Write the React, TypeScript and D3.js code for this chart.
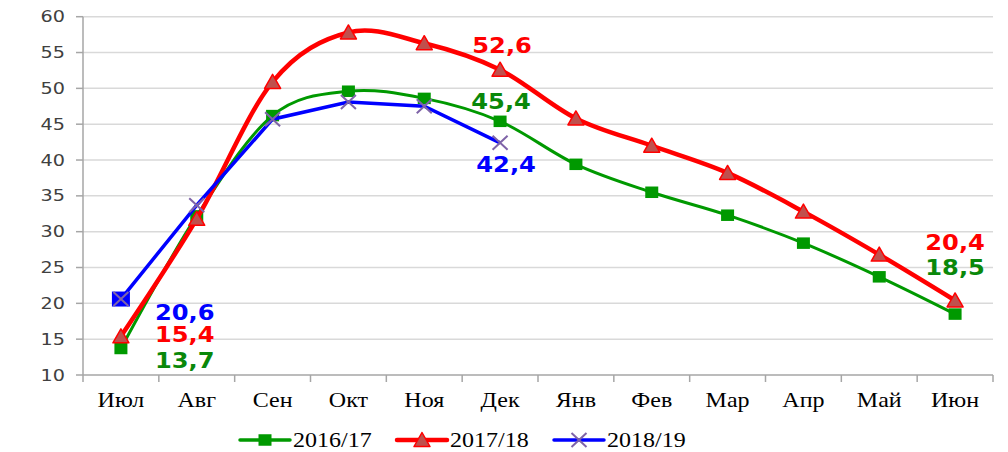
import React from "react";
import * as d3 from "d3";

const months = ["Июл", "Авг", "Сен", "Окт", "Ноя", "Дек", "Янв", "Фев", "Мар", "Апр", "Май", "Июн"];
const yTicks = [10, 15, 20, 25, 30, 35, 40, 45, 50, 55, 60];
const s2016 = [13.7, 32.2, 46.2, 49.6, 48.6, 45.4, 39.4, 35.5, 32.3, 28.4, 23.7, 18.5];
const s2017 = [15.4, 31.8, 50.9, 57.8, 56.3, 52.6, 45.8, 42.0, 38.2, 32.8, 26.8, 20.4];
const s2018 = [20.6, 33.7, 45.7, 48.1, 47.5, 42.4];
const seriesNames = ["2016/17", "2017/18", "2018/19"];

const W = 1008, H = 452;
const L = 83, R = 993, T = 16.7, B = 375;

const x = d3.scaleBand<string>().domain(months).range([L, R]).padding(0);
const cx = (i: number) => (x(months[i]) as number) + x.bandwidth() / 2;
const y = d3.scaleLinear().domain([10, 60]).range([B, T]);

const smooth = d3.line<number>().x((_, i) => cx(i)).y((d) => y(d)).curve(d3.curveCardinal.tension(0));
const straight = d3.line<number>().x((_, i) => cx(i)).y((d) => y(d));

const GREEN = "#009900", RED = "#ff0000", BLUE = "#0000ff", TRI = "#c0504d", XCOL = "#7f64a8";
const GREEN_TXT = "#0a880a";

function ST({ x: tx, y: ty, sx = 1.2, anchor = "start", children, ...rest }: any) {
  return (
    <text transform={`translate(${tx},${ty}) scale(${sx},1)`} textAnchor={anchor} {...rest}>
      {children}
    </text>
  );
}

const sq = (px: number, py: number, w = 13, h = 11.5, fill = GREEN, key?: any) => (
  <rect key={key} x={px - w / 2} y={py - h / 2} width={w} height={h} fill={fill} />
);
const tri = (px: number, py: number, key?: any) => (
  <path key={key} d={`M${px - 8},${py + 6.5} L${px + 8},${py + 6.5} L${px},${py - 7.5} Z`} fill={TRI} stroke={RED} strokeWidth={1.5} strokeLinejoin="round" />
);
const cross = (px: number, py: number, key?: any) => (
  <path key={key} d={`M${px - 7.5},${py - 7} L${px + 7.5},${py + 7} M${px - 7.5},${py + 7} L${px + 7.5},${py - 7}`} stroke={XCOL} strokeWidth={2} />
);

const labelFont = { fontFamily: "DejaVu Sans, Verdana, sans-serif", fontWeight: "bold", fontSize: 21 };

export default function App() {
  return (
    <svg width={W} height={H} style={{ position: "absolute", left: 0, top: 0 }}>
      <rect width={W} height={H} fill="#fff" />
      {yTicks.filter((t) => t > 10).map((t) => (
        <line key={t} x1={L} x2={R} y1={y(t)} y2={y(t)} stroke="#d9d9d9" strokeWidth={1.5} />
      ))}
      <line x1={L} x2={L} y1={T} y2={B} stroke="#a6a6a6" strokeWidth={1.5} />
      <line x1={L} x2={R} y1={B} y2={B} stroke="#a6a6a6" strokeWidth={1.5} />
      {yTicks.map((t) => (
        <g key={t}>
          <line x1={L - 7} x2={L} y1={y(t)} y2={y(t)} stroke="#a6a6a6" strokeWidth={1.5} />
          <ST x={65} y={y(t) + 5.5} sx={1.28} anchor="end" fill="#404040" style={{ fontFamily: "DejaVu Sans, sans-serif", fontSize: 15 }}>
            {t}
          </ST>
        </g>
      ))}
      {months.map((m, i) => (
        <g key={m}>
          <line x1={(x(m) as number)} x2={(x(m) as number)} y1={B} y2={B + 7} stroke="#a6a6a6" strokeWidth={1.5} />
          <ST x={cx(i)} y={407} sx={1.2} anchor="middle" fill="#000" style={{ fontFamily: "Liberation Serif, Times New Roman, serif", fontSize: 20 }}>
            {m}
          </ST>
        </g>
      ))}
      <line x1={R} x2={R} y1={B} y2={B + 7} stroke="#a6a6a6" strokeWidth={1.5} />

      <path d={smooth(s2016) as string} fill="none" stroke={GREEN} strokeWidth={3} />
      {s2016.map((v, i) => sq(cx(i), y(v), 13, 11.5, GREEN, "g" + i))}
      <path d={smooth(s2017) as string} fill="none" stroke={RED} strokeWidth={4.5} />
      {s2017.map((v, i) => tri(cx(i), y(v), "r" + i))}
      <path d={straight(s2018) as string} fill="none" stroke={BLUE} strokeWidth={3.5} />
      {s2018.map((v, i) => (
        <g key={"b" + i}>
          {i === 0 && sq(cx(i), y(v), 18, 15, BLUE)}
          {cross(cx(i), y(v))}
        </g>
      ))}

      <g style={labelFont as any}>
        <ST x={cx(0) + 34} y={y(s2018[0]) + 21} sx={1.15} fill={BLUE}>{"20,6"}</ST>
        <ST x={cx(0) + 34} y={y(s2017[0]) + 6} sx={1.15} fill={RED}>{"15,4"}</ST>
        <ST x={cx(0) + 34} y={y(s2016[0]) + 19.5} sx={1.15} fill={GREEN_TXT}>{"13,7"}</ST>
        <ST x={cx(5) + 2} y={y(s2017[5]) - 17} sx={1.15} anchor="middle" fill={RED}>{"52,6"}</ST>
        <ST x={cx(5) + 1} y={y(s2016[5]) - 12.5} sx={1.15} anchor="middle" fill={GREEN_TXT}>{"45,4"}</ST>
        <ST x={cx(5) + 6} y={y(s2018[5]) + 29.5} sx={1.15} anchor="middle" fill={BLUE}>{"42,4"}</ST>
        <ST x={cx(11)} y={y(s2017[11]) - 50} sx={1.15} anchor="middle" fill={RED}>{"20,4"}</ST>
        <ST x={cx(11)} y={y(s2016[11]) - 39.5} sx={1.15} anchor="middle" fill={GREEN_TXT}>{"18,5"}</ST>
      </g>

      {seriesNames.map((name, k) => {
        const x0 = 240 + k * 157;
        const ly = 440;
        const col = [GREEN, RED, BLUE][k];
        const sw = [3.5, 4.5, 3.5][k];
        const mx = x0 + 25;
        return (
          <g key={name}>
            <line x1={x0} x2={x0 + 50} y1={ly} y2={ly} stroke={col} strokeWidth={sw} strokeLinecap="round" />
            {k === 0 && sq(mx, ly, 13, 11.5, GREEN)}
            {k === 1 && tri(mx, ly)}
            {k === 2 && cross(mx, ly)}
            <ST x={x0 + 53} y={447} sx={1.2} fill="#000" style={{ fontFamily: "Liberation Serif, Times New Roman, serif", fontSize: 20 }}>
              {name}
            </ST>
          </g>
        );
      })}
    </svg>
  );
}
